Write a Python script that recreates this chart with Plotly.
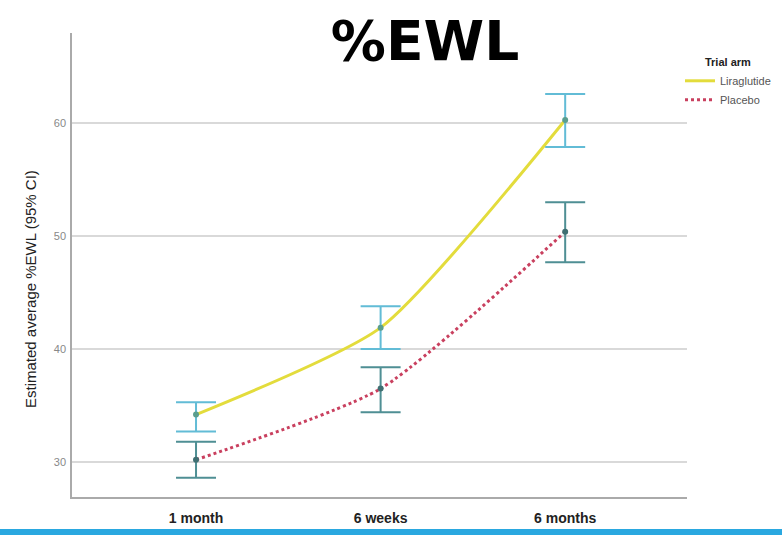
import plotly.graph_objects as go

categories = ["1 month", "6 weeks", "6 months"]
lira_mean = [34.2, 41.9, 60.3]
lira_upper = [35.3, 43.8, 62.6]
lira_lower = [32.7, 40.0, 57.9]
plac_mean = [30.2, 36.5, 50.4]
plac_upper = [31.8, 38.4, 53.0]
plac_lower = [28.6, 34.4, 47.7]
y_ticks = [30, 40, 50, 60]

x_idx = list(range(len(categories)))

def err(mean, up, lo):
    return [u - m for u, m in zip(up, mean)], [m - l for m, l in zip(mean, lo)]

lu, ll = err(lira_mean, lira_upper, lira_lower)
pu, pl = err(plac_mean, plac_upper, plac_lower)

W, H = 782, 535
L, R, T, B = 72, 95, 33, 38
PH = H - T - B

fig = go.Figure()
fig.add_trace(go.Scatter(
    x=x_idx, y=lira_mean, name="Liraglutide", mode="lines",
    line=dict(color="#e3dc3c", width=3, shape="spline", smoothing=0.6),
))
fig.add_trace(go.Scatter(
    x=x_idx, y=plac_mean, name="Placebo", mode="lines",
    line=dict(color="#c9405f", width=3, dash="dot", shape="spline", smoothing=0.6),
))
fig.add_trace(go.Scatter(
    x=x_idx, y=lira_mean, mode="markers", showlegend=False,
    marker=dict(color="#5a9e8e", size=6),
    error_y=dict(type="data", array=lu, arrayminus=ll, color="#62bcd6",
                 thickness=2, width=20),
))
fig.add_trace(go.Scatter(
    x=x_idx, y=plac_mean, mode="markers", showlegend=False,
    marker=dict(color="#3f6f72", size=6),
    error_y=dict(type="data", array=pu, arrayminus=pl, color="#4f8f94",
                 thickness=2, width=20),
))

fig.update_layout(
    width=W, height=H,
    margin=dict(l=L, r=R, t=T, b=B, autoexpand=False),
    paper_bgcolor="white", plot_bgcolor="white",
    font=dict(family="Liberation Sans, Arial, sans-serif", color="#222"),
    title=dict(text="<b>%EWL</b>", xref="container", x=425 / W, xanchor="center",
               yref="container", y=1 - 41 / H, yanchor="middle",
               font=dict(family="DejaVu Sans, sans-serif", size=55, color="black")),
    showlegend=True,
    legend=dict(xref="container", x=680 / W, xanchor="left",
                yref="container", y=1 - 52 / H, yanchor="top",
                title=dict(text="<b>Trial arm</b>", side="top center",
                           font=dict(size=11, color="#222")),
                font=dict(size=11, color="#555"), bgcolor="rgba(0,0,0,0)",
                itemwidth=30, tracegroupgap=0),
    xaxis=dict(tickmode="array", tickvals=x_idx, ticktext=categories,
               range=[-0.672, 2.66], showgrid=False, zeroline=False,
               showline=True, linecolor="#aaaaaa", linewidth=1.5,
               ticks="outside", ticklen=7, tickcolor="rgba(0,0,0,0)",
               tickfont=dict(size=14, color="#222", weight="bold"),
               fixedrange=True),
    yaxis=dict(tickvals=y_ticks, range=[26.9, 68.0], showgrid=True,
               gridcolor="#d9d9d9", gridwidth=1.5, zeroline=False,
               showline=True, linecolor="#aaaaaa", linewidth=1.5,
               ticks="outside", ticklen=2, tickcolor="rgba(0,0,0,0)",
               tickfont=dict(size=11, color="#888")),
    annotations=[dict(text="Estimated average %EWL (95% CI)", textangle=-90,
                      xref="paper", yref="paper", x=(30 - L) / (W - L - R),
                      y=(H - B - 289) / PH, xanchor="center", yanchor="middle",
                      showarrow=False, font=dict(size=15, color="#222"))],
    shapes=[dict(type="rect", xref="paper", yref="paper",
                 x0=-0.2, x1=1.3, y0=-0.2, y1=(497 - 529) / PH,
                 fillcolor="#2aa8e0", line=dict(width=0), layer="above")],
)

fig.write_html("out.html", config={"displayModeBar": False},
               post_script="document.body.style.margin='0';")
